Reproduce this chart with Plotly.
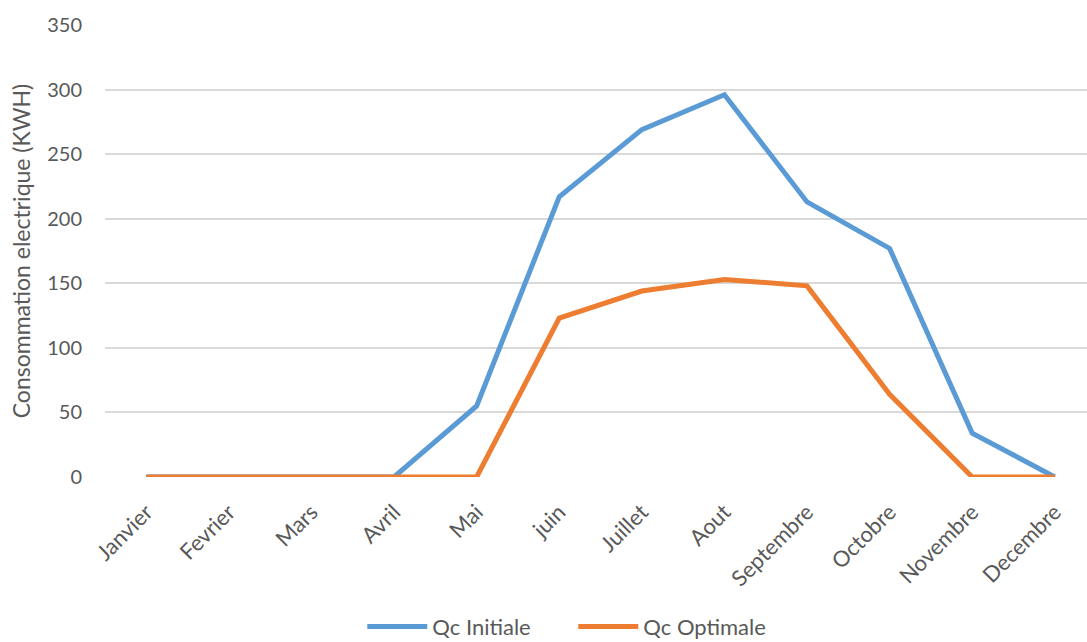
import plotly.graph_objects as go

mois = ["Janvier", "Fevrier", "Mars", "Avril", "Mai", "juin", "Juillet",
        "Aout", "Septembre", "Octobre", "Novembre", "Decembre"]
qc_initiale = [0, 0, 0, 0, 55, 217, 269, 296, 213, 177, 34, 0]
qc_optimale = [0, 0, 0, 0, 0, 123, 144, 153, 148, 64, 0, 0]

FONT = "Lato, 'Open Sans', sans-serif"
GRIS = "#595959"

fig = go.Figure()
fig.add_trace(go.Scatter(x=mois, y=qc_initiale, name="Qc Initiale", mode="lines",
                         line=dict(color="#5B9BD5", width=5)))
fig.add_trace(go.Scatter(x=mois, y=qc_optimale, name="Qc Optimale", mode="lines",
                         line=dict(color="#ED7D31", width=5)))

fig.update_layout(
    width=1087, height=642,
    margin=dict(l=105, r=0, t=25, b=165, autoexpand=False),
    paper_bgcolor="white", plot_bgcolor="white",
    font=dict(family=FONT, color=GRIS, size=20),
    showlegend=True,
    legend=dict(orientation="h", x=0.262, xanchor="left",
                yref="container", y=0.024, yanchor="middle",
                entrywidth=136, entrywidthmode="pixels",
                font=dict(size=22, color=GRIS), itemwidth=60, tracegroupgap=0),
)
fig.update_xaxes(
    type="category", range=[-0.5, 11.39], showgrid=False, zeroline=False,
    showline=False, tickangle=-45, tickfont=dict(size=22, color=GRIS),
    ticks="", ticklabelstandoff=17, automargin=False,
)
fig.update_yaxes(
    range=[0, 350], dtick=50, showgrid=True, gridcolor="#D9D9D9", gridwidth=1.5,
    zeroline=False, showline=False, tickfont=dict(size=20, color=GRIS),
    ticks="", ticklabelstandoff=22, automargin=False,
    title=dict(text="Consommation electrique (KWH)", font=dict(size=23, color=GRIS),
               standoff=10),
)

fig.write_html("out.html")
